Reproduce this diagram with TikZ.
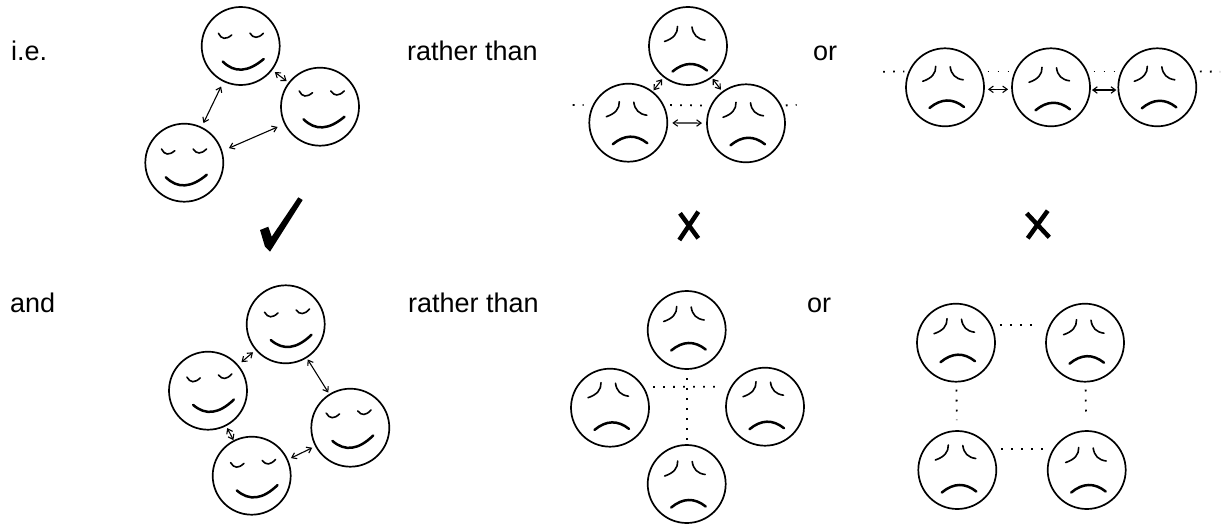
\documentclass[tikz,border=0pt]{standalone}
\usepackage{fontspec}
\setmainfont{Liberation Sans}
\usetikzlibrary{arrows.meta}
\tikzset{
  x=1pt,y=-1pt,
  face/.style={circle,draw,line width=1.7pt,minimum size=78pt,inner sep=0pt,outer sep=0pt},
  eye/.style={line width=1.6pt,line cap=round},
  mouth/.style={line width=2.5pt,line cap=round},
  twoway/.style={line width=1.1pt,{Straight Barb[length=4.5pt,width=6.5pt]}-{Straight Barb[length=4.5pt,width=6.5pt]}},
  dots/.style={line width=1.8pt,dash pattern=on 1.8pt off 8.2pt},
  label/.style={anchor=base west,inner sep=0pt,font=\fontsize{27}{30}\selectfont},
  cross/.style={line width=4.5pt},
  pics/happyface/.style n args={3}{code={
    \begin{scope}[shift={(#1,#2)},rotate=#3]
      \draw[eye] (-22.3,-12.7) .. controls (-19.3,-6.6) and (-14.8,-6.1) .. (-9,-11);
      \draw[eye] (9.3,-12.7) .. controls (12.8,-7.4) and (17.3,-7.4) .. (22.7,-12.7);
      \draw[mouth] (-18,15.5) .. controls (-6.3,27.2) and (7.3,26.3) .. (23,13);
    \end{scope}}},
  pics/sadface/.style n args={3}{code={
    \begin{scope}[shift={(#1,#2)}]
      \draw[eye] (-9,-21) .. controls (-8.7,-14) and (-13,-9) .. (-22,-6);
      \draw[eye] (5.5,-20.5) .. controls (6.5,-12.8) and (10.8,-8.5) .. (18.5,-7.5);
    \end{scope}
    \draw[mouth,yshift={-1pt*(#3)}] (-15.5,21.5) .. controls (-3.8,11.8) and (7.7,11.5) .. (19,20.5);}},
}
\begin{document}
\begin{tikzpicture}
\useasboundingbox (0,0) rectangle (1225,527);
% texts
\node[label] (t1) at (11,60.7) {i.e.};
\node[label] (t2) at (407,60.7) {rather than};
\node[label] (t3) at (813,60.7) {or};
\node[label] (t4) at (10,312) {and};
\node[label] (t5) at (408,312) {rather than};
\node[label] (t6) at (807,312) {or};
% panel 1
\node[face] (a1) at (240.7,46) {};
\node[face] (a2) at (320,106.7) {};
\node[face] (a3) at (184.3,162.7) {};
\pic at (a1) {happyface={0}{0}{0}};
\pic at (a2) {happyface={1.5}{-3}{0}};
\pic at (a3) {happyface={-0.5}{-1}{0}};
\draw[twoway,shorten <=6pt,shorten >=5pt] (a1) -- (a3);
\draw[twoway,shorten <=4pt,shorten >=3pt] (a1) -- (a2);
\draw[twoway,shorten <=8pt,shorten >=8pt] (a2.206) -- (a3.17);
% panel 2
\node[face] (b1) at (688,46) {};
\node[face] (b2) at (628.3,122.7) {};
\node[face] (b3) at (746,123.3) {};
\pic at (b1) {sadface={-1.5}{1.5}{4}};
\pic at (b2) {sadface={0}{0}{0}};
\pic at (b3) {sadface={-1}{0}{0.5}};
\draw[twoway,shorten <=3pt,shorten >=2pt] (b1) -- (b2);
\draw[twoway,shorten <=2pt,shorten >=3pt] (b1) -- (b3);
\draw[twoway,shorten <=5pt,shorten >=5pt] (b2) -- (b3);
\coordinate (b4) at (572.7,105);
\coordinate (b5) at (796.7,105);
\draw[dots,shorten >=10pt] (b4) -- (b2.153);
\draw[dots,shorten <=7pt,shorten >=8pt] (b2.27) -- (b3.153);
\draw[dots,shorten <=5pt] (b3.27) -- (b5);
% panel 3
\node[face] (c1) at (945,87.3) {};
\node[face] (c2) at (1051,87.3) {};
\node[face] (c3) at (1157.3,87.3) {};
\pic at (c1) {sadface={-0.3}{0}{-0.8}};
\pic at (c2) {sadface={0}{1}{1.5}};
\pic at (c3) {sadface={-1}{0}{-0.5}};
\draw[twoway,shorten <=4pt,shorten >=4pt] (c1.-3) -- (c2.183);
\draw[twoway,shorten <=2pt,shorten >=2pt] (c2.-4) -- (c3.184);
\coordinate (c4) at (883,71.7);
\coordinate (c5) at (1220,71.7);
\draw[dots,shorten >=5pt] (c4) -- (c1.156);
\draw[dots,shorten <=7pt,shorten >=7pt] (c1.24) -- (c2.156);
\draw[dots,shorten <=7pt,shorten >=7pt] (c2.24) -- (c3.156);
\draw[dots,shorten <=7pt] (c3.24) -- (c5);
% marks
\fill (260,230) -- (268.3,226.7) -- (271.7,236.7) -- (298.3,197.3) -- (302.7,200) -- (270,251.7) -- (265,246.7) -- cycle;
\draw[cross] (680,213.3) -- (698.3,238.3);
\draw[cross] (698.3,211.7) -- (679.3,240);
\draw[cross] (1026.7,213.3) -- (1049.3,237.3);
\draw[cross] (1047.7,210.7) -- (1027.7,238.3);
% panel 4
\node[face] (d1) at (285.7,324.3) {};
\node[face] (d2) at (208,390.7) {};
\node[face] (d3) at (350.3,427.7) {};
\node[face] (d4) at (251.7,475.7) {};
\pic at (d1) {happyface={2}{-1}{4}};
\pic at (d2) {happyface={2}{-2.5}{4}};
\pic at (d3) {happyface={-1}{-3.5}{4}};
\pic at (d4) {happyface={2}{-2}{4}};
\draw[twoway,shorten <=4pt,shorten >=5pt] (d1) -- (d2);
\draw[twoway,shorten <=2.5pt,shorten >=2.5pt] (d1) -- (d3);
\draw[twoway,shorten <=3pt,shorten >=1pt] (d2) -- (d4);
\draw[twoway,shorten <=4pt,shorten >=4pt] (d4.24) -- (d3.208);
% panel 5
\node[face] (e1) at (686.7,330) {};
\node[face] (e2) at (610,407.7) {};
\node[face] (e3) at (765,406.7) {};
\node[face] (e4) at (686.7,484) {};
\pic at (e1) {sadface={-1}{-2.5}{-1}};
\pic at (e2) {sadface={0}{-4}{0.7}};
\pic at (e3) {sadface={0}{-4}{1}};
\pic at (e4) {sadface={0}{-2}{2}};
\draw[dots,shorten <=10pt,shorten >=16pt] (e2.32.6) -- (e3.149);
\draw[dots,shorten <=9pt,shorten >=5pt] (e1) -- (e4);
% panel 6
\node[face] (f1) at (956,342.7) {};
\node[face] (f2) at (1085,342.7) {};
\node[face] (f3) at (957.3,470) {};
\node[face] (f4) at (1086.7,470) {};
\pic at (f1) {sadface={0}{-3}{-2}};
\pic at (f2) {sadface={0.5}{-2}{-0.5}};
\pic at (f3) {sadface={0}{-4}{1}};
\pic at (f4) {sadface={1}{-1.5}{1}};
\draw[dots,shorten <=9pt,shorten >=13pt] (f1.27) -- (f2.153);
\draw[dots,shorten <=11pt,shorten >=8pt] (f3.32) -- (f4.148);
\draw[dots,shorten <=8pt,shorten >=11pt] (f1) -- (f3);
\draw[dots,shorten <=8pt,shorten >=13pt] (f2) -- (f4);
\end{tikzpicture}
\end{document}
